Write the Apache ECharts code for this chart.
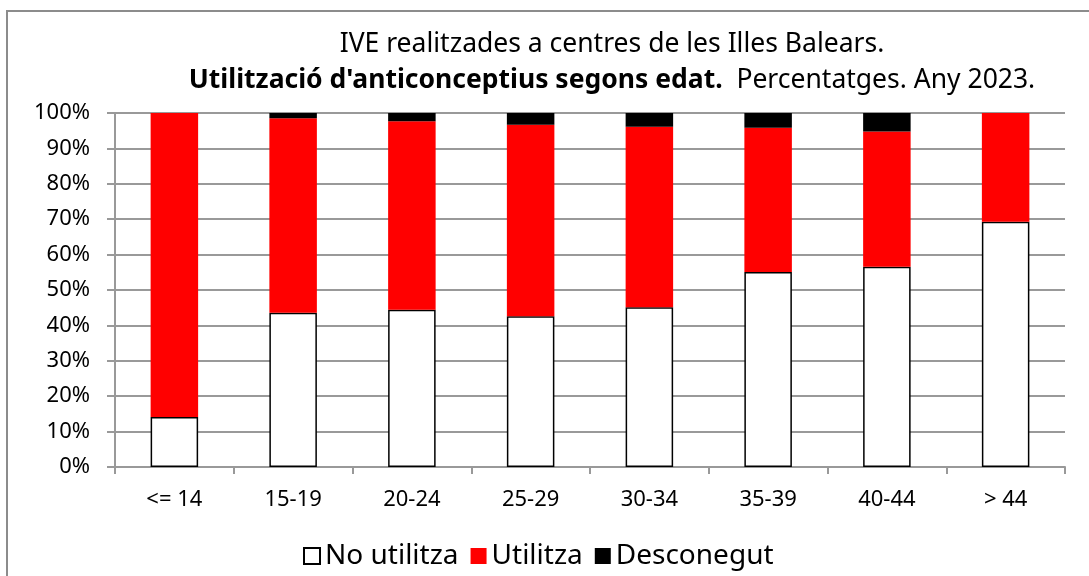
<!DOCTYPE html>
<html>
<head>
<meta charset="utf-8">
<script src="https://cdn.jsdelivr.net/npm/echarts@6/dist/echarts.min.js"></script>
<style>
  html, body { margin: 0; padding: 0; background: #fff; }
  #chart { width: 1089px; height: 576px; }
</style>
</head>
<body>
<div id="chart"></div>
<script>
// age groups
const categories = ["<= 14", "15-19", "20-24", "25-29", "30-34", "35-39", "40-44", "> 44"];
// percentages per group
const noUtilitza = [14.1, 43.6, 44.4, 42.6, 45.1, 55.1, 56.6, 69.3];
const utilitza = [85.9, 54.9, 53.3, 54.1, 51.0, 40.7, 38.2, 30.7];
const desconegut = [0, 1.5, 2.3, 3.3, 3.9, 4.2, 5.2, 0];
const yTicks = [0, 10, 20, 30, 40, 50, 60, 70, 80, 90, 100];

const font = "Noto Sans";
let myChart = echarts.init(document.getElementById("chart"));

let option = {
  animation: false,
  textStyle: { fontFamily: font },
  title: [
    {
      text: "IVE realitzades a centres de les Illes Balears.",
      left: 607,
      top: 26,
      textAlign: "center",
      textStyle: { fontFamily: font, fontSize: 26.5, fontWeight: "normal", color: "#000" },
    },
    {
      text: "{b|Utilització d'anticonceptius segons edat.}  Percentatges. Any 2023.",
      left: 607,
      top: 62,
      textAlign: "center",
      textStyle: {
        fontFamily: font,
        fontSize: 26.5,
        fontWeight: "normal",
        color: "#000",
        rich: {
          b: { fontFamily: font, fontSize: 26.5, fontWeight: "bold", color: "#000" },
        },
      },
    },
  ],
  graphic: [
    {
      type: "rect",
      shape: { x: 7, y: 11, width: 1100, height: 600 },
      style: { fill: "none", stroke: "#8c8c8c", lineWidth: 2 },
      silent: true,
    },
  ],
  legend: {
    left: 298,
    top: 537,
    icon: "rect",
    itemWidth: 16,
    itemHeight: 16,
    itemGap: 12,
    textStyle: { fontFamily: font, fontSize: 28, color: "#000" },
    data: ["No utilitza", "Utilitza", "Desconegut"],
  },
  grid: { left: 115, right: 24, top: 113, bottom: 109 },
  xAxis: {
    type: "category",
    data: categories,
    axisLine: { lineStyle: { color: "#999", width: 2 } },
    axisTick: { show: true, length: 7, lineStyle: { color: "#999", width: 2 } },
    axisLabel: { color: "#000", fontSize: 22, margin: 22, fontFamily: font },
  },
  yAxis: {
    type: "value",
    min: 0,
    max: 100,
    interval: 10,
    axisLine: { show: true, lineStyle: { color: "#999", width: 2 } },
    axisTick: { show: true, length: 8, lineStyle: { color: "#999", width: 2 } },
    splitLine: { lineStyle: { color: "#999", width: 2 } },
    axisLabel: {
      color: "#000",
      fontSize: 22,
      margin: 25,
      fontFamily: font,
      formatter: function (v) {
        return yTicks.indexOf(v) >= 0 ? v + "%" : "";
      },
    },
  },
  series: [
    {
      name: "No utilitza",
      type: "bar",
      stack: "total",
      barWidth: "40%",
      data: noUtilitza,
      itemStyle: { color: "#fff", borderColor: "#000", borderWidth: 1.5 },
    },
    {
      name: "Utilitza",
      type: "bar",
      stack: "total",
      data: utilitza,
      itemStyle: { color: "#ff0000" },
    },
    {
      name: "Desconegut",
      type: "bar",
      stack: "total",
      data: desconegut,
      itemStyle: { color: "#000" },
    },
  ],
};
myChart.setOption(option);
</script>
</body>
</html>
